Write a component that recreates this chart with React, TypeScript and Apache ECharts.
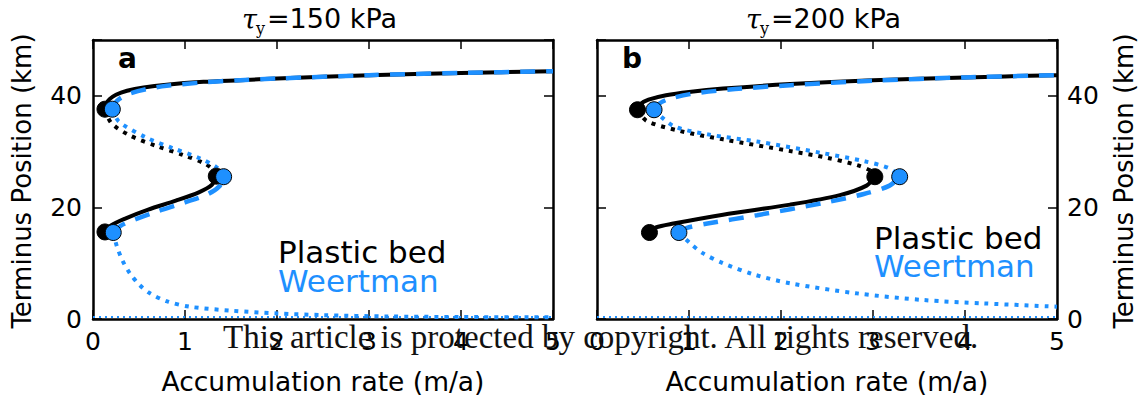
import React, { useEffect, useRef } from 'react';
import * as echarts from 'echarts';

// ---------- data ----------
const panelTitles = ['=150 kPa', '=200 kPa'];
const panelLetters = ['a', 'b'];
const legendLabels = ['Plastic bed', 'Weertman'];
const xAxisName = 'Accumulation rate (m/a)';
const yAxisName = 'Terminus Position (km)';
const watermark = 'This article is protected by copyright. All rights reserved.';

// Panel a (tau_y = 150 kPa)
const aPlasticUpper = [[0.13, 37.6], [0.145, 38.6], [0.18, 39.4], [0.25, 40.2], [0.37, 40.9], [0.55, 41.5], [0.8, 42.0], [1.2, 42.5], [1.6, 42.8], [2, 43.1], [3, 43.7], [4, 44.1], [5, 44.4]];
const aPlasticMiddle = [[0.13, 37.6], [0.2, 35.1], [0.4, 32.9], [0.69, 31.0], [0.98, 29.4], [1.22, 27.8], [1.32, 26.5], [1.34, 25.6]];
const aPlasticLower = [[0.13, 15.6], [0.2, 16.8], [0.35, 18.0], [0.6, 19.6], [0.9, 21.2], [1.15, 22.7], [1.29, 24.0], [1.34, 25.6]];
const aPlasticFolds = [[0.13, 37.6], [1.34, 25.6], [0.13, 15.6]];
const aWeertUpper = [[0.21, 37.6], [0.235, 38.6], [0.29, 39.5], [0.4, 40.4], [0.58, 41.2], [0.8, 41.8], [1.2, 42.4], [1.6, 42.8], [2, 43.1], [3, 43.7], [4, 44.1], [5, 44.4]];
const aWeertMiddle = [[0.21, 37.6], [0.28, 35.4], [0.58, 32.5], [0.87, 30.6], [1.16, 28.8], [1.35, 27.1], [1.42, 25.5]];
const aWeertLower = [[0.22, 15.5], [0.3, 16.7], [0.45, 17.8], [0.7, 19.3], [1.0, 20.9], [1.25, 22.4], [1.38, 23.9], [1.42, 25.5]];
const aWeertDecay = [[0.22, 15.5], [0.26, 13], [0.32, 10.5], [0.4, 8.2], [0.5, 6.2], [0.62, 4.6], [0.8, 3.2], [1.05, 2.2], [1.5, 1.5], [2.0, 1.0], [2.5, 0.7], [3.2, 0.45], [4, 0.35], [5, 0.3]];
const aWeertZero = [[0, 0.35], [5, 0.35]];
const aWeertFolds = [[0.21, 37.6], [1.42, 25.5], [0.22, 15.5]];

// Panel b (tau_y = 200 kPa)
const bPlasticUpper = [[0.44, 37.5], [0.47, 38.5], [0.56, 39.3], [0.75, 40.1], [1.0, 40.7], [1.37, 41.3], [2.1, 42.1], [3, 42.8], [4, 43.3], [5, 43.7]];
const bPlasticMiddle = [[0.44, 37.5], [0.54, 35.5], [0.9, 33.7], [1.37, 32.2], [2.1, 30.1], [2.5, 28.9], [2.82, 27.6], [2.98, 26.5], [3.02, 25.5]];
const bPlasticLower = [[0.57, 15.5], [0.64, 16.4], [0.83, 17.1], [1.37, 18.7], [2.1, 20.5], [2.64, 22.2], [2.93, 23.9], [3.02, 25.5]];
const bPlasticFolds = [[0.44, 37.5], [3.02, 25.5], [0.57, 15.5]];
const bWeertUpper = [[0.62, 37.5], [0.66, 38.4], [0.76, 39.3], [1.01, 40.3], [1.5, 41.2], [2.1, 41.9], [3, 42.7], [4, 43.3], [5, 43.7]];
const bWeertMiddle = [[0.62, 37.5], [0.83, 34.6], [1.2, 33.1], [1.74, 31.8], [2.46, 29.7], [2.9, 28.3], [3.18, 27.0], [3.29, 25.5]];
const bWeertLower = [[0.89, 15.5], [0.97, 16.3], [1.2, 17.1], [1.74, 18.6], [2.46, 20.8], [2.9, 22.4], [3.18, 23.9], [3.29, 25.5]];
const bWeertDecay = [[0.89, 15.5], [1.01, 13.6], [1.15, 11.8], [1.37, 10], [1.7, 8.0], [2.1, 6.4], [2.82, 4.6], [3.55, 3.4], [4.2, 2.8], [5, 2.2]];
const bWeertZero = [[0, 0.35], [5, 0.35]];
const bWeertFolds = [[0.62, 37.5], [3.29, 25.5], [0.89, 15.5]];

const X_MIN = 0, X_MAX = 5, X_STEP = 1;
const Y_MIN = 0, Y_MAX = 50, Y_STEP = 20;

// ---------- styling ----------
const BLACK = '#000000';
const BLUE = '#1e90ff';
const SANS = '"DejaVu Sans", sans-serif';
const SERIF = '"DejaVu Serif", serif';

const GRIDS = [
  { left: 93, top: 40, width: 460, height: 279 },
  { left: 597, top: 40, width: 460, height: 279 },
];

export default function App() {
  const ref = useRef<HTMLDivElement>(null);

  useEffect(() => {
    if (!ref.current) return;
    const chart = echarts.init(ref.current, undefined, { renderer: 'svg' });

    const axisLine = { show: true, onZero: false, lineStyle: { color: BLACK, width: 2.5 } };
    const axisTick = { show: true, inside: true, length: 9, lineStyle: { color: BLACK, width: 1.5 } };
    const label = { color: BLACK, fontSize: 25, fontFamily: SANS };

    const xAxes: any[] = [];
    const yAxes: any[] = [];
    GRIDS.forEach((_, g) => {
      xAxes.push({
        type: 'value', gridIndex: g, position: 'bottom', min: X_MIN, max: X_MAX, interval: X_STEP,
        axisLine, axisTick, splitLine: { show: false },
        axisLabel: { ...label, margin: 10 },
      });
      xAxes.push({
        type: 'value', gridIndex: g, position: 'top', min: X_MIN, max: X_MAX, interval: X_STEP,
        axisLine, axisTick, splitLine: { show: false }, axisLabel: { show: false },
      });
      const yl = {
        type: 'value', gridIndex: g, position: 'left', min: Y_MIN, max: Y_MAX, interval: Y_STEP,
        axisLine, axisTick, splitLine: { show: false },
        axisLabel: g === 0 ? { ...label, margin: 11, formatter: (v: number) => (v === Y_MAX ? '' : String(v)) } : { show: false },
      };
      const yr = {
        type: 'value', gridIndex: g, position: 'right', min: Y_MIN, max: Y_MAX, interval: Y_STEP,
        axisLine, axisTick, splitLine: { show: false },
        axisLabel: g === 1 ? { ...label, margin: 10, formatter: (v: number) => (v === Y_MAX ? '' : String(v)) } : { show: false },
      };
      yAxes.push(yl, yr);
    });

    const line = (g: number, data: number[][], color: string, width: number, type: any, z: number) => ({
      type: 'line', xAxisIndex: g * 2, yAxisIndex: g * 2, data, showSymbol: false, symbol: 'none',
      smooth: 0.3, lineStyle: { color, width, type, cap: 'butt' }, z, silent: true,
    });
    const dots = (g: number, data: number[][], color: string, z: number) => ({
      type: 'scatter', xAxisIndex: g * 2, yAxisIndex: g * 2, data, symbol: 'circle', symbolSize: 16,
      itemStyle: { color, borderColor: BLACK, borderWidth: 1, opacity: 1 }, z, silent: true,
    });

    const DASH = [15, 11];
    const DOT = [4, 6];
    const FINE = [2, 4];

    const panels = [
      { pu: aPlasticUpper, pm: aPlasticMiddle, pl: aPlasticLower, pf: aPlasticFolds, wu: aWeertUpper, wm: aWeertMiddle, wl: aWeertLower, wd: aWeertDecay, wz: aWeertZero, wf: aWeertFolds },
      { pu: bPlasticUpper, pm: bPlasticMiddle, pl: bPlasticLower, pf: bPlasticFolds, wu: bWeertUpper, wm: bWeertMiddle, wl: bWeertLower, wd: bWeertDecay, wz: bWeertZero, wf: bWeertFolds },
    ];

    const series: any[] = [];
    panels.forEach((p, g) => {
      series.push(line(g, p.pu, BLACK, 4, 'solid', 2));
      series.push(line(g, p.pl, BLACK, 4, 'solid', 2));
      series.push(line(g, p.pm, BLACK, 4, DOT, 2));
      series.push(line(g, p.wu, BLUE, 4.5, DASH, 3));
      series.push(line(g, p.wl, BLUE, 4.5, DASH, 3));
      series.push(line(g, p.wm, BLUE, 4, DOT, 3));
      series.push(line(g, p.wd, BLUE, 4, DOT, 3));
      series.push({ ...line(g, p.wz, BLUE, 2, FINE, 3), smooth: false });
      series.push(dots(g, p.pf, BLACK, 4));
      series.push(dots(g, p.wf, BLUE, 5));
    });

    const graphic: any[] = [];
    GRIDS.forEach((gr, g) => {
      const cx = gr.left + gr.width / 2;
      // title with tau_y
      graphic.push({ type: 'text', z: 10, style: { text: 'τ', x: cx - 81, y: 19, fontFamily: SERIF, fontStyle: 'italic', fontSize: 27, fill: BLACK, align: 'left', verticalAlign: 'middle' } });
      graphic.push({ type: 'text', z: 10, style: { text: 'y', x: cx - 67, y: 28, fontFamily: SERIF, fontSize: 16, fill: BLACK, align: 'left', verticalAlign: 'middle' } });
      graphic.push({ type: 'text', z: 10, style: { text: panelTitles[g], x: cx - 56, y: 18, fontFamily: SANS, fontSize: 27, fill: BLACK, align: 'left', verticalAlign: 'middle' } });
      // panel letter
      graphic.push({ type: 'text', z: 10, style: { text: panelLetters[g], x: gr.left + 25, y: 58, fontFamily: SANS, fontWeight: 'bold', fontSize: 28, fill: BLACK, align: 'left', verticalAlign: 'middle' } });
      // x axis name
      graphic.push({ type: 'text', z: 10, style: { text: xAxisName, x: cx, y: 381, fontFamily: SANS, fontSize: 26.5, fill: BLACK, align: 'center', verticalAlign: 'middle' } });
    });
    // legends
    graphic.push({ type: 'text', z: 10, style: { text: legendLabels[0], x: 278, y: 252, fontFamily: SANS, fontSize: 31, fill: BLACK, align: 'left', verticalAlign: 'middle' } });
    graphic.push({ type: 'text', z: 10, style: { text: legendLabels[1], x: 278, y: 281, fontFamily: SANS, fontSize: 31, fill: BLUE, align: 'left', verticalAlign: 'middle' } });
    graphic.push({ type: 'text', z: 10, style: { text: legendLabels[0], x: 874, y: 238, fontFamily: SANS, fontSize: 31, fill: BLACK, align: 'left', verticalAlign: 'middle' } });
    graphic.push({ type: 'text', z: 10, style: { text: legendLabels[1], x: 874, y: 266, fontFamily: SANS, fontSize: 31, fill: BLUE, align: 'left', verticalAlign: 'middle' } });
    // y axis names
    graphic.push({ type: 'text', z: 10, x: 22, y: 181, rotation: Math.PI / 2, style: { text: yAxisName, x: 0, y: 0, fontFamily: SANS, fontSize: 26, fill: BLACK, align: 'center', verticalAlign: 'middle' } });
    graphic.push({ type: 'text', z: 10, x: 1124, y: 181, rotation: Math.PI / 2, style: { text: yAxisName, x: 0, y: 0, fontFamily: SANS, fontSize: 26, fill: BLACK, align: 'center', verticalAlign: 'middle' } });
    // watermark
    graphic.push({ type: 'text', z: 100, style: { text: watermark, x: 223, y: 337, fontFamily: '"Liberation Serif", serif', fontSize: 33, fill: '#111111', align: 'left', verticalAlign: 'middle' } });

    chart.setOption({
      animation: false,
      backgroundColor: '#ffffff',
      grid: GRIDS.map((g) => ({ ...g, show: false, containLabel: false })),
      xAxis: xAxes,
      yAxis: yAxes,
      series,
      graphic,
    });

    return () => chart.dispose();
  }, []);

  return <div ref={ref} style={{ position: 'fixed', left: 0, top: 0, width: 1140, height: 395, background: '#fff' }} />;
}
